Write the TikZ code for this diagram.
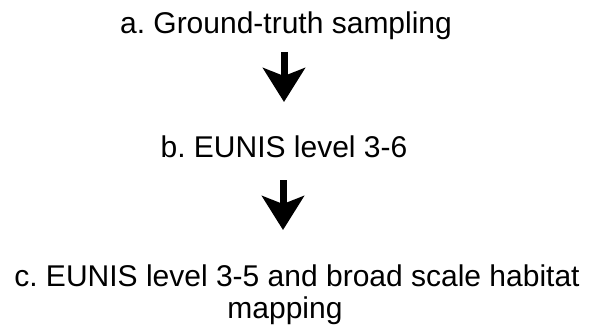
\documentclass[tikz,border=0pt]{standalone}
\usepackage{fontspec}
\setmainfont{Liberation Sans}
\usetikzlibrary{arrows.meta}
\begin{document}
\frenchspacing
\begin{tikzpicture}[x=1pt,y=1pt,
  lbl/.style={anchor=base,font=\fontsize{30}{34}\selectfont,inner sep=0pt},
  bigarrow/.style={line width=7pt,-{Stealth[length=34pt,width=42pt,inset=8pt]}}]
\useasboundingbox[fill=white] (0,0) rectangle (589,-329);
\node[lbl] (a) at (286,-34) {a. Ground-truth sampling};
\node[lbl] (b) at (284,-157) {b. EUNIS level 3-6};
\node[lbl] (c1) at (297,-286) {c. EUNIS level 3-5 and broad scale habitat};
\node[lbl] (c2) at (285,-318) {mapping};
\coordinate (a1) at (284,-52);
\coordinate (a2) at (284,-102);
\coordinate (b1) at (283,-180);
\coordinate (b2) at (283,-230);
\draw[bigarrow] (a1) -- (a2);
\draw[bigarrow] (b1) -- (b2);
\end{tikzpicture}
\end{document}
